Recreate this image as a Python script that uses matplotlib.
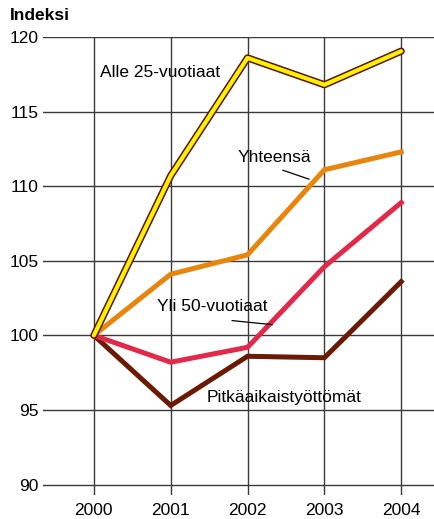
import matplotlib
matplotlib.use("Agg")
import matplotlib.pyplot as plt
import matplotlib.patheffects as pe

plt.rcParams['font.family'] = ['Liberation Sans', 'DejaVu Sans']

years = [2000, 2001, 2002, 2003, 2004]
alle25 = [100, 110.7, 118.6, 116.8, 119.05]
yhteensa = [100, 104.1, 105.4, 111.1, 112.3]
yli50 = [100, 98.2, 99.2, 104.6, 108.9]
pitka = [100, 95.3, 98.6, 98.5, 103.6]
yticks = [90, 95, 100, 105, 110, 115, 120]

W, H = 435, 519
fig = plt.figure(figsize=(W / 100, H / 100), dpi=100)
ax = fig.add_axes([43 / W, (H - 495) / H, (435 - 43) / W, (495 - 37) / H])

ax.set_xlim(1999.338, 2004.44)
ax.set_ylim(89.3, 120)
for s in ax.spines.values():
    s.set_visible(False)

for y in yticks:
    ax.axhline(y, color='#3a3a3a', lw=1.0, zorder=1)
for x in years:
    ax.axvline(x, color='#3a3a3a', lw=1.0, zorder=1)

fs = 12.5
ax.set_xticks(years)
ax.set_xticklabels([str(y) for y in years], fontsize=fs)
ax.set_yticks(yticks)
ax.set_yticklabels([str(y) for y in yticks], fontsize=fs)
ax.tick_params(length=0, pad=3)
ax.tick_params(axis='x', pad=6)

ax.plot(years, pitka, color='#6B1A05', lw=3.6, zorder=3, solid_joinstyle='miter')
ax.plot(years, yli50, color='#E2294A', lw=3.6, zorder=3, solid_joinstyle='miter')
ax.plot(years, yhteensa, color='#E8850C', lw=3.6, zorder=3, solid_joinstyle='miter')
ax.plot(years, alle25, color='#FFF200', lw=3.0, zorder=4, solid_capstyle='round',
        path_effects=[pe.Stroke(linewidth=5.2, foreground='#5A1505', capstyle='round'), pe.Normal()])

ax.text(2000.86, 117.65, 'Alle 25-vuotiaat', fontsize=fs, ha='center', va='center', zorder=5)
ax.text(2002.35, 111.9, 'Yhteensä', fontsize=fs, ha='center', va='center', zorder=5)
ax.plot([2002.46, 2002.80], [111.07, 110.47], color='black', lw=0.9, zorder=5)
ax.text(2001.54, 101.95, 'Yli 50-vuotiaat', fontsize=fs, ha='center', va='center', zorder=5)
ax.plot([2001.80, 2002.32], [100.99, 100.72], color='black', lw=0.9, zorder=5)
ax.text(2002.48, 95.84, 'Pitkäaikaistyöttömät', fontsize=fs, ha='center', va='center', zorder=5)

fig.text(10 / W, 1 - 16 / H, 'Indeksi', fontsize=fs, fontweight='bold', ha='left', va='center')

fig.savefig('out.png', dpi=100)
